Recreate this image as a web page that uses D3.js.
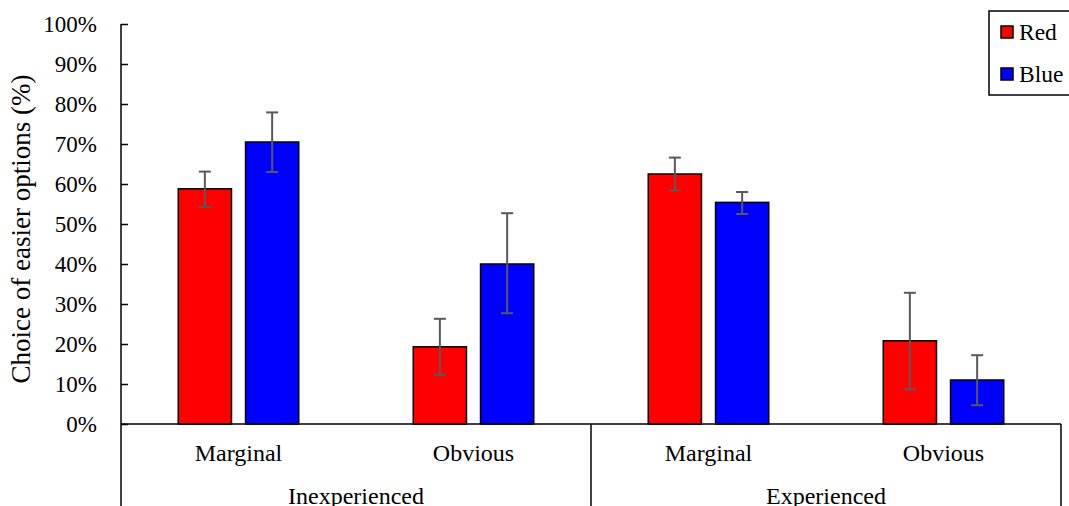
<!DOCTYPE html>
<html><head><meta charset="utf-8">
<script src="https://cdn.jsdelivr.net/npm/d3@7"></script>
<style>body{margin:0;background:#fff}svg{display:block}svg text{font-family:"Times New Roman","Liberation Serif",Tinos,serif;fill:#000}</style>
</head><body><svg id="c" width="1069" height="506"></svg>
<script>
const groups = ["Inexperienced", "Experienced"];
const conditions = ["Marginal", "Obvious"];
const series = ["Red", "Blue"];
const colors = ["#FF0000", "#0000FF"];
// values in %, order: Inex-Marginal, Inex-Obvious, Exp-Marginal, Exp-Obvious
const redValues = [58.8, 19.3, 62.5, 20.8];
const redErrLow = [54.3, 12.3, 58.4, 8.7];
const redErrHigh = [63.1, 26.3, 66.6, 32.8];
const blueValues = [70.5, 40.0, 55.4, 11.0];
const blueErrLow = [63.0, 27.7, 52.5, 4.7];
const blueErrHigh = [77.9, 52.7, 58.0, 17.2];
const yTicks = [0, 10, 20, 30, 40, 50, 60, 70, 80, 90, 100];
const yTitle = "Choice of easier options (%)";

const FONT = '"Times New Roman","Liberation Serif",Tinos,serif';
const svg = d3.select("#c");
const L = 121, R = 1061, T = 24, B = 424;
const cats = [];
groups.forEach(g => conditions.forEach(c => cats.push(g + "|" + c)));
const x0 = d3.scaleBand().domain(cats).range([L, R]).padding(0);
const x1 = d3.scaleBand().domain(series).range([0, x0.bandwidth()]).paddingInner(0.209).paddingOuter(0.851);
const xg = d3.scaleBand().domain(groups).range([L, R]).padding(0);
const y = d3.scaleLinear().domain([0, 100]).range([B, T]);

const vals = {Red: redValues, Blue: blueValues};
const lo = {Red: redErrLow, Blue: blueErrLow};
const hi = {Red: redErrHigh, Blue: blueErrHigh};

const data = [];
cats.forEach((c, i) => series.forEach((s, j) => data.push({c, s, j, v: vals[s][i], lo: lo[s][i], hi: hi[s][i]})));

// bars
svg.append("g").selectAll("rect").data(data).join("rect")
  .attr("x", d => x0(d.c) + x1(d.s))
  .attr("y", d => y(d.v))
  .attr("width", x1.bandwidth())
  .attr("height", d => y(0) - y(d.v))
  .attr("fill", d => colors[d.j])
  .attr("stroke", "#000").attr("stroke-width", 1.5);

// error bars
const eb = svg.append("g").attr("stroke", "#595959").attr("stroke-width", 2);
data.forEach(d => {
  const cx = x0(d.c) + x1(d.s) + x1.bandwidth() / 2;
  eb.append("line").attr("x1", cx).attr("x2", cx).attr("y1", y(d.lo)).attr("y2", y(d.hi));
  eb.append("line").attr("x1", cx - 6).attr("x2", cx + 6).attr("y1", y(d.lo)).attr("y2", y(d.lo));
  eb.append("line").attr("x1", cx - 6).attr("x2", cx + 6).attr("y1", y(d.hi)).attr("y2", y(d.hi));
});

// y axis
const ya = svg.append("g").attr("transform", `translate(${L},0)`)
  .call(d3.axisLeft(y).tickValues(yTicks).tickSize(-7).tickPadding(24).tickFormat(d => d + "%"));
ya.attr("font-family", FONT).attr("font-size", 23);
ya.select(".domain").remove();
ya.selectAll(".tick line").attr("stroke", "#000").attr("stroke-width", 1.5);
ya.selectAll(".tick text").style("font-family", FONT).style("font-size", "23px").attr("fill", "#000");

// axis lines
const ax = svg.append("g").attr("stroke", "#000").attr("stroke-width", 1.5);
ax.append("line").attr("x1", L).attr("x2", L).attr("y1", T).attr("y2", 506);
ax.append("line").attr("x1", L).attr("x2", R).attr("y1", B).attr("y2", B);
groups.forEach(g => {
  const xr = xg(g) + xg.bandwidth();
  ax.append("line").attr("x1", xr).attr("x2", xr).attr("y1", B).attr("y2", 506);
});

// category labels
svg.append("g").selectAll("text").data(cats).join("text")
  .attr("x", d => x0(d) + x0.bandwidth() / 2).attr("y", 461)
  .attr("text-anchor", "middle").style("font-family", FONT).style("font-size", "24px")
  .text(d => d.split("|")[1]);
svg.append("g").selectAll("text").data(groups).join("text")
  .attr("x", d => xg(d) + xg.bandwidth() / 2).attr("y", 504)
  .attr("text-anchor", "middle").style("font-family", FONT).style("font-size", "24px")
  .text(d => d);

// y title
svg.append("text").attr("transform", "translate(30,229) rotate(-90)")
  .attr("text-anchor", "middle").style("font-family", FONT).style("font-size", "27px").text(yTitle);

// legend
const lg = svg.append("g");
lg.append("rect").attr("x", 989).attr("y", 11).attr("width", 90).attr("height", 84)
  .attr("fill", "#fff").attr("stroke", "#000").attr("stroke-width", 1.5);
series.forEach((s, i) => {
  const cy = 32 + i * 42;
  lg.append("rect").attr("x", 1001).attr("y", cy - 6).attr("width", 12).attr("height", 12)
    .attr("fill", colors[i]).attr("stroke", "#000").attr("stroke-width", 1.5);
  lg.append("text").attr("x", 1019).attr("y", cy + 8).style("font-family", FONT).style("font-size", "23.5px").text(s);
});
</script></body></html>
